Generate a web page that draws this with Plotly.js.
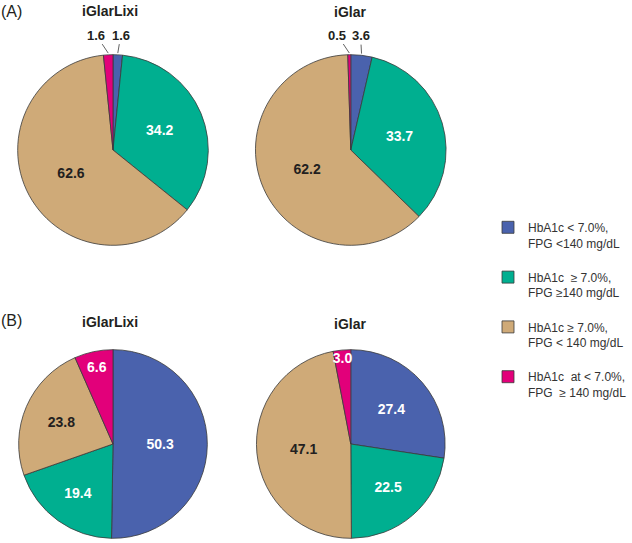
<!DOCTYPE html>
<html>
<head>
<meta charset="utf-8">
<script src="https://cdn.plot.ly/plotly-3.0.1.min.js"></script>
<style>
  html, body { margin: 0; padding: 0; background: #fff; }
  #chart { width: 632px; height: 543px; }
</style>
</head>
<body>
<div id="chart"></div>
<script>
// categories (legend text)
const categories = [
  "HbA1c < 7.0%,<br>FPG <140 mg/dL<br> ",
  "HbA1c  ≥ 7.0%,<br>FPG ≥140 mg/dL<br> ",
  "HbA1c ≥ 7.0%,<br>FPG < 140 mg/dL<br> ",
  "HbA1c  at < 7.0%,<br>FPG  ≥ 140 mg/dL<br> "
];
const colors = ["#4a62ad", "#00af90", "#cfaa78", "#e2007a"];

// panel A
const aGlarLixi = [1.6, 34.2, 62.6, 1.6];
const aGlar = [3.6, 33.7, 62.2, 0.5];
// panel B
const bGlarLixi = [50.3, 19.4, 23.8, 6.6];
const bGlar = [27.4, 22.5, 47.1, 3.0];

const W = 632, H = 543;
const FONT = "Liberation Sans, Arial, sans-serif";
const DARK = "#231f20";

function domainFor(cx, cy, r) {
  return {
    x: [(cx - r) / W, (cx + r) / W],
    y: [1 - (cy + r) / H, 1 - (cy - r) / H]
  };
}

// small slices get their label outside with a short leader line (offsets in px)
function makePie(values, cx, cy, r, showlegend, outside, annotations) {
  const pos = values.map((v, i) => (outside[i] ? "none" : "inside"));
  const tcol = values.map((v, i) => (i === 2 ? DARK : "#ffffff"));
  const total = values.reduce((a, b) => a + b, 0);
  let cum = 0;
  values.forEach((v, i) => {
    const mid = ((cum + v / 2) / total) * 2 * Math.PI;
    cum += v;
    if (!outside[i]) return;
    const px = cx + r * Math.sin(mid);
    const py = cy - r * Math.cos(mid);
    annotations.push({
      text: "<b>" + v.toFixed(1) + "</b>",
      x: px / W, y: 1 - py / H, xref: "paper", yref: "paper",
      showarrow: true, arrowhead: 0, arrowwidth: 0.8, arrowcolor: "#3a3a3a",
      standoff: 0, startstandoff: 0,
      ax: outside[i][0], ay: outside[i][1],
      font: { family: FONT, size: 13, color: DARK }
    });
  });
  return {
    type: "pie",
    labels: categories,
    values: values,
    text: values.map(v => v.toFixed(1)),
    textinfo: "text",
    textposition: pos,
    insidetextorientation: "horizontal",
    textfont: { family: FONT, size: 14, color: tcol, weight: "bold" },
    sort: false,
    direction: "clockwise",
    rotation: 0,
    marker: { colors: colors, line: { color: "#3a3a3a", width: 0.8 } },
    domain: domainFor(cx, cy, r),
    showlegend: showlegend,
    hoverinfo: "skip"
  };
}

const titleFont = { family: FONT, size: 14, color: DARK, weight: "bold" };
const panelFont = { family: FONT, size: 16, color: DARK };

function note(text, x, y, font) {
  return { text: text, x: x / W, y: 1 - y / H, xref: "paper", yref: "paper",
    showarrow: false, font: font, xanchor: "center", yanchor: "middle" };
}

const annotations = [
  note("(A)", 12, 12, panelFont),
  note("iGlarLixi", 112, 11, titleFont),
  note("iGlar", 356, 12, titleFont),
  note("(B)", 12, 320, panelFont),
  note("iGlarLixi", 112, 322, titleFont),
  note("iGlar", 356, 324, titleFont)
];

const data = [
  makePie(aGlarLixi, 115, 150, 97, true, [[3, -18], null, null, [-12, -18]], annotations),
  makePie(aGlar, 357, 150, 97, false, [[-1, -18], null, null, [-12, -18]], annotations),
  makePie(bGlarLixi, 115, 444, 96, false, [null, null, null, null], annotations),
  makePie(bGlar, 357, 444, 96, false, [null, null, null, null], annotations)
];

const layout = {
  width: W,
  height: H,
  margin: { l: 0, r: 0, t: 0, b: 0 },
  paper_bgcolor: "#ffffff",
  font: { family: FONT, color: DARK },
  uniformtext: { minsize: 14, mode: "show" },
  showlegend: true,
  legend: {
    x: 497 / W,
    y: 1 - 213 / H,
    xanchor: "left",
    yanchor: "top",
    valign: "top",
    traceorder: "normal",
    font: { family: FONT, size: 12, color: "#333333" },
    bgcolor: "rgba(0,0,0,0)"
  },
  annotations: annotations
};

Plotly.newPlot("chart", data, layout, { displayModeBar: false, staticPlot: true });
</script>
</body>
</html>
